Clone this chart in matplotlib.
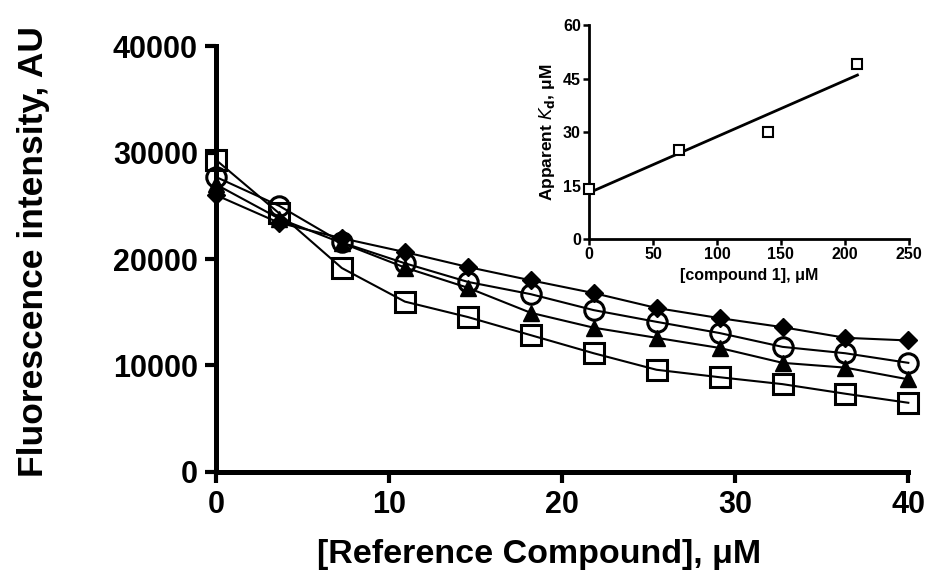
import numpy as np
import matplotlib
matplotlib.use("Agg")
import matplotlib.pyplot as plt

plt.rcParams['font.family'] = ['Liberation Sans', 'DejaVu Sans']

# main titration data
conc = [0, 3.64, 7.27, 10.91, 14.55, 18.18, 21.82, 25.45, 29.09, 32.73, 36.36, 40]
diamonds = [26000, 23400, 21950, 20650, 19250, 18000, 16800, 15400, 14450, 13600, 12600, 12350]
circles = [27700, 25000, 21550, 19600, 17850, 16700, 15200, 14100, 13050, 11750, 11150, 10250]
triangles = [27000, 23800, 21500, 19200, 17300, 14950, 13550, 12600, 11650, 10250, 9800, 8700]
squares = [29300, 24300, 19150, 16000, 14550, 12850, 11150, 9600, 8900, 8250, 7350, 6500]

# inset data
cmpd1 = [0, 70, 140, 210]
kd_app = [14, 25, 30, 49]

fig = plt.figure(figsize=(9.28, 5.78), dpi=100)
ax = fig.add_axes([0.2328, 0.1834, 0.746, 0.737])

lw = 1.5
ax.plot(conc, diamonds, color='black', lw=lw, marker='D', ms=9, mfc='black', mec='black', zorder=3)
ax.plot(conc, triangles, color='black', lw=lw, marker='^', ms=11, mfc='black', mec='black', zorder=3)
ax.plot(conc, squares, color='black', lw=lw, marker='s', ms=14, mfc='none', mec='black', mew=2.2, zorder=4)
ax.plot(conc, circles, color='black', lw=lw, marker='o', ms=14, mfc='none', mec='black', mew=2.2, zorder=5)

ax.set_xlim(0, 40)
ax.set_ylim(0, 40000)
ax.set_xticks([0, 10, 20, 30, 40])
ax.set_yticks([0, 10000, 20000, 30000, 40000])
for s in ['top', 'right']:
    ax.spines[s].set_visible(False)
for s in ['left', 'bottom']:
    ax.spines[s].set_linewidth(3.6)
ax.tick_params(width=3, length=8, labelsize=22, pad=5)
for lab in ax.get_xticklabels() + ax.get_yticklabels():
    lab.set_fontweight('bold')
for line in ax.lines:
    line.set_clip_on(False)

# axis titles placed on the figure
fig.text(0.581, 0.026, '[Reference Compound], \u03bcM', fontsize=24.5, fontweight='bold',
         ha='center', va='baseline')
fig.text(0.036, 0.564, 'Fluorescence intensity, AU', fontsize=25.5, fontweight='bold',
         rotation=90, ha='center', va='center')

# inset
ins = fig.add_axes([0.635, 0.5865, 0.344, 0.370])
ins.plot(cmpd1, kd_app, linestyle='none', marker='s', ms=7.5, mfc='white', mec='black', mew=1.5, zorder=4, clip_on=False)
slope, icpt = np.polyfit(cmpd1, kd_app, 1)
xfit = np.array([cmpd1[0], cmpd1[-1]])
ins.plot(xfit, slope * xfit + icpt, color='black', lw=2, zorder=3)
ins.set_xlim(0, 250)
ins.set_ylim(0, 60)
ins.set_xticks([0, 50, 100, 150, 200, 250])
ins.set_yticks([0, 15, 30, 45, 60])
for s in ['top', 'right']:
    ins.spines[s].set_visible(False)
for s in ['left', 'bottom']:
    ins.spines[s].set_linewidth(2)
ins.tick_params(width=1.8, length=4, labelsize=11.5, pad=2)
for lab in ins.get_xticklabels() + ins.get_yticklabels():
    lab.set_fontweight('bold')
ins.set_xlabel('[compound 1], \u03bcM', fontsize=11.5, fontweight='bold', labelpad=4)
ins.set_ylabel('Apparent $\\mathbf{\\it{K}}_\\mathbf{d}$, \u03bcM', fontsize=12.5, fontweight='bold')

fig.savefig('out.png', dpi=100)
